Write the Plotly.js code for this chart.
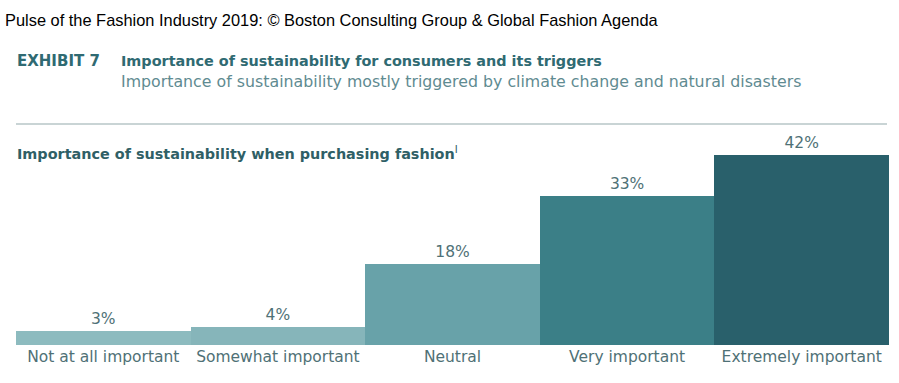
<!DOCTYPE html>
<html>
<head>
<meta charset="utf-8">
<script src="https://cdn.plot.ly/plotly-3.0.1.min.js"></script>
<style>html,body{margin:0;padding:0;background:#fff;}#chart{width:899px;height:383px;}</style>
</head>
<body>
<div id="chart"></div>
<script>
// Data
const categories = ["Not at all important", "Somewhat important", "Neutral", "Very important", "Extremely important"];
const shares = [3, 4, 18, 33, 42];
const valueLabels = ["3%", "4%", "18%", "33%", "42%"];
const barColors = ["#8dbbbf", "#86b5ba", "#68a2a9", "#3b7f87", "#29606b"];

const W = 899, H = 383;
const px = x => x / W;
const py = y => 1 - y / H;
const FONT = "DejaVu Sans";

const trace = {
  type: "bar",
  x: categories,
  y: shares,
  marker: {color: barColors, line: {width: 0}},
  text: valueLabels,
  textposition: "outside",
  textfont: {family: FONT, size: 15.5, color: "#4f7176"},
  cliponaxis: false,
  hoverinfo: "none"
};

const layout = {
  width: W, height: H,
  margin: {l: 0, r: 0, t: 0, b: 0},
  paper_bgcolor: "#fff", plot_bgcolor: "#fff",
  showlegend: false,
  bargap: 0,
  xaxis: {
    domain: [px(16), px(889)],
    showgrid: false, zeroline: false, showline: false,
    ticks: "", tickfont: {family: FONT, size: 15.5, color: "#4f7176"},
    automargin: false
  },
  yaxis: {
    domain: [py(345), py(155)],
    range: [0, 42],
    visible: false, fixedrange: true
  },
  shapes: [
    {type: "line", xref: "paper", yref: "paper", x0: px(16), x1: px(887), y0: py(124), y1: py(124),
     line: {color: "#c9d4d5", width: 2}}
  ],
  annotations: [
    {xref: "paper", yref: "paper", x: px(3), y: py(20), xanchor: "left", yanchor: "middle", showarrow: false,
     text: "Pulse of the Fashion Industry 2019: © Boston Consulting Group & Global Fashion Agenda",
     font: {family: "Liberation Sans", size: 16.4, color: "#000"}},
    {xref: "paper", yref: "paper", x: px(15), y: py(61), xanchor: "left", yanchor: "middle", showarrow: false,
     text: "<b>EXHIBIT 7</b>", font: {family: FONT, size: 15, color: "#2f6a72"}},
    {xref: "paper", yref: "paper", x: px(119), y: py(61), xanchor: "left", yanchor: "middle", showarrow: false,
     text: "<b>Importance of sustainability for consumers and its triggers</b>", font: {family: FONT, size: 14.4, color: "#2f6a72"}},
    {xref: "paper", yref: "paper", x: px(119), y: py(82), xanchor: "left", yanchor: "middle", showarrow: false,
     text: "Importance of sustainability mostly triggered by climate change and natural disasters", font: {family: FONT, size: 15.8, color: "#5f8b91"}},
    {xref: "paper", yref: "paper", x: px(15), y: py(153), xanchor: "left", yanchor: "middle", showarrow: false,
     text: "<b>Importance of sustainability when purchasing fashion</b><sup>I</sup>", font: {family: FONT, size: 14.4, color: "#2f5f66"}}
  ]
};

Plotly.newPlot("chart", [trace], layout, {displayModeBar: false, staticPlot: true});
</script>
</body>
</html>
